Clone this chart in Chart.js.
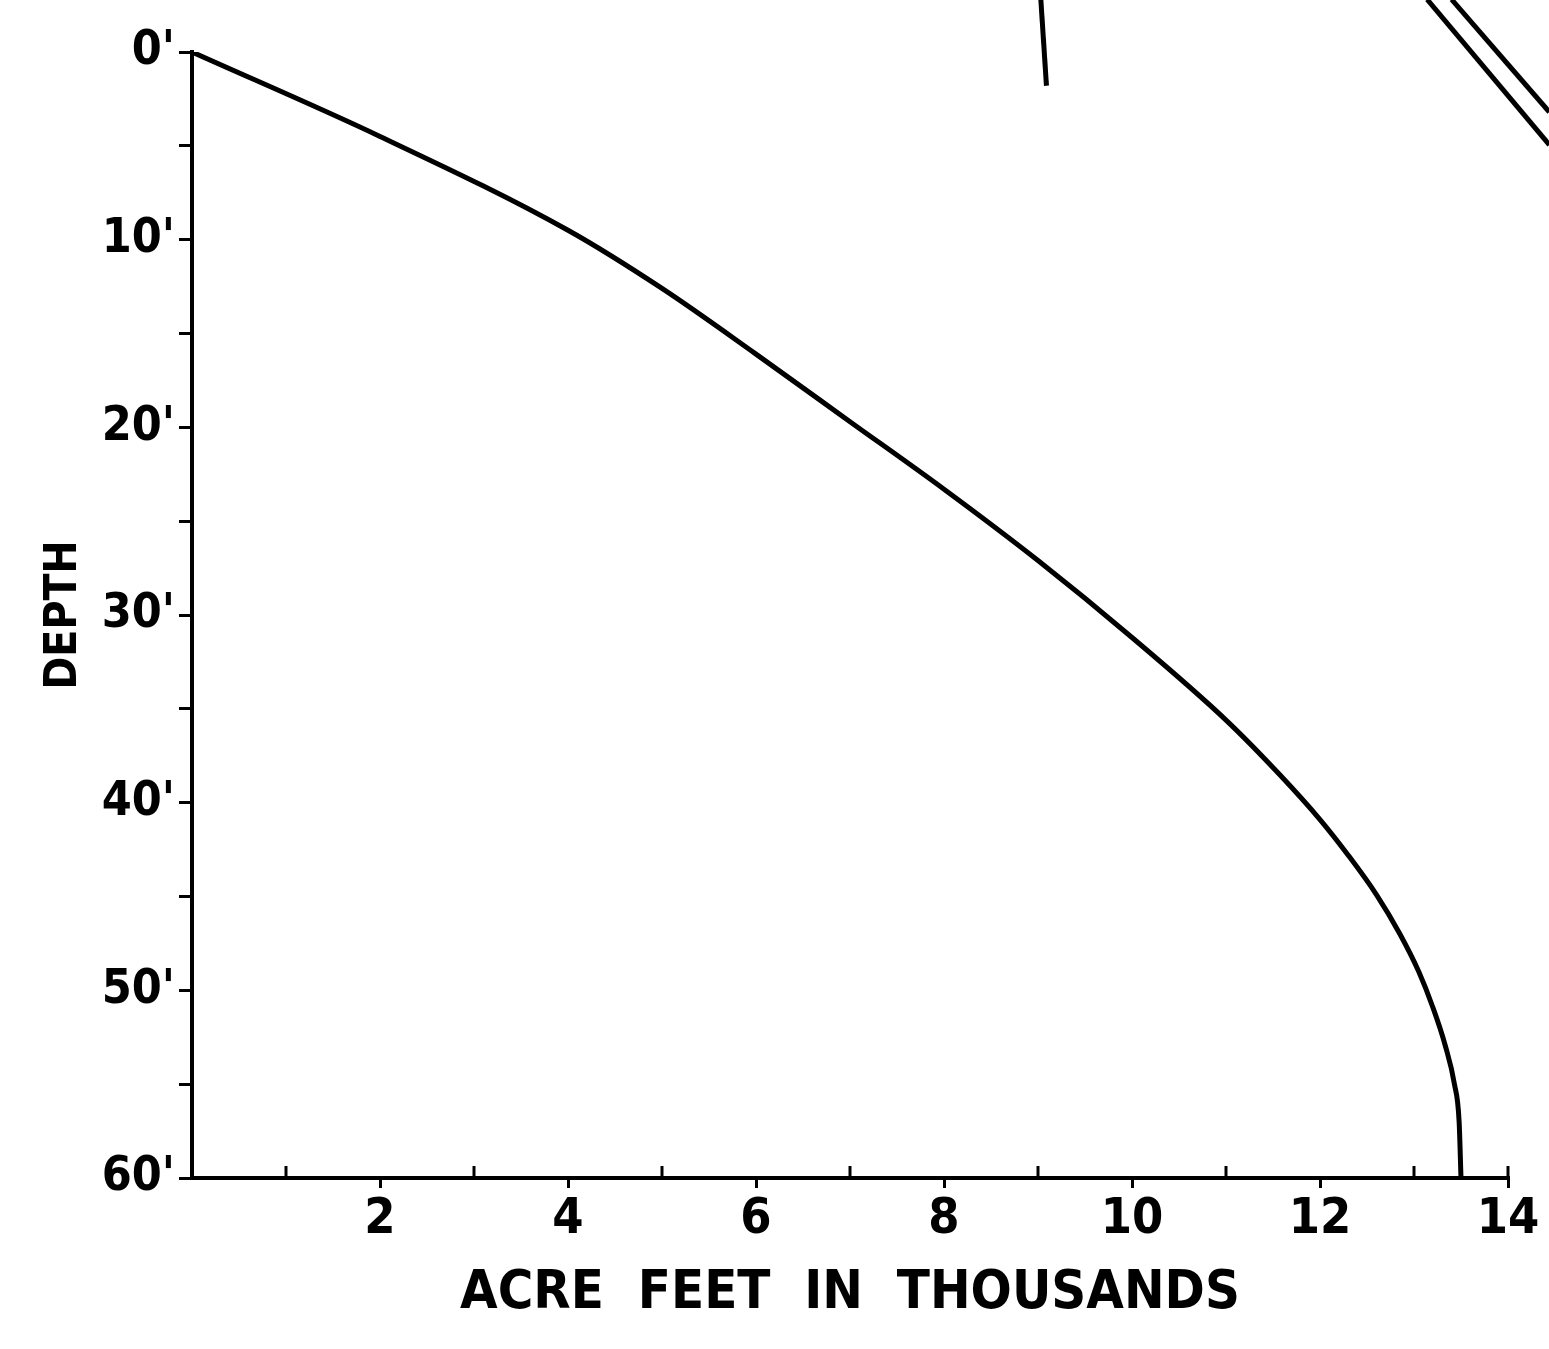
<!DOCTYPE html>
<html>
<head>
<meta charset="utf-8">
<script src="https://cdn.jsdelivr.net/npm/chart.js@4.4.1/dist/chart.umd.min.js"></script>
<style>
  html, body { margin: 0; padding: 0; background: #fff; }
  #wrap { width: 1549px; height: 1349px; }
</style>
</head>
<body>
<div id="wrap"><canvas id="capacityChart" width="1549" height="1349"></canvas></div>
<script>
// Capacity curve: acre feet (thousands) vs depth (feet)
const acreFeet = [0, 2.0, 4.0, 5.0, 6.0, 7.0, 8.0, 9.0, 10.0, 11.0, 11.57, 12.0, 12.3, 12.6, 12.85, 13.05, 13.2, 13.33, 13.43, 13.48, 13.5];
const depthFt  = [0, 4.5, 9.5, 12.6, 16.1, 19.7, 23.3, 27.1, 31.2, 35.6, 38.5, 40.9, 42.8, 44.9, 47.0, 49.0, 50.9, 52.9, 55.0, 57.0, 60];

// stray strokes from the neighbouring figure on the scanned page
const strayVertX = [9.03, 9.09];
const strayVertY = [-2.8, 1.8];
const strayDiagAX = [13.14, 14.44];
const strayDiagAY = [-2.8, 4.95];
const strayDiagBX = [13.40, 14.44];
const strayDiagBY = [-2.8, 3.2];

const xTitle = 'ACRE  FEET  IN  THOUSANDS';
const yTitle = 'DEPTH';

const fontFamily = "'DejaVu Sans Condensed', 'DejaVu Sans', sans-serif";

const toPoints = (xs, ys) => xs.map((x, i) => ({ x: x, y: ys[i] }));

const strayStyle = {
  borderColor: '#000',
  borderWidth: 5,
  pointRadius: 0,
  fill: false,
  clip: false
};

// odd x ticks point up into the plot, as on the original
const upTicks = {
  id: 'upTicks',
  afterDraw(chart) {
    const xs = chart.scales.x;
    const ys = chart.scales.y;
    const ctx = chart.ctx;
    ctx.save();
    ctx.strokeStyle = '#000';
    ctx.lineWidth = 3;
    xs.ticks.forEach(t => {
      if (t.value % 2 === 1 || t.value === 14) {
        const px = xs.getPixelForValue(t.value);
        ctx.beginPath();
        ctx.moveTo(px, ys.bottom);
        ctx.lineTo(px, ys.bottom - 12);
        ctx.stroke();
      }
    });
    ctx.restore();
  }
};

new Chart(document.getElementById('capacityChart'), {
  type: 'line',
  data: {
    datasets: [
      {
        label: 'Capacity',
        data: toPoints(acreFeet, depthFt),
        borderColor: '#000',
        borderWidth: 5,
        pointRadius: 0,
        cubicInterpolationMode: 'monotone',
        fill: false
      },
      { label: 'stray1', data: toPoints(strayVertX, strayVertY), ...strayStyle },
      { label: 'stray2', data: toPoints(strayDiagAX, strayDiagAY), ...strayStyle },
      { label: 'stray3', data: toPoints(strayDiagBX, strayDiagBY), ...strayStyle }
    ]
  },
  options: {
    responsive: false,
    devicePixelRatio: 1,
    animation: false,
    layout: {
      padding: { left: 0, right: 41, top: 52, bottom: 0 }
    },
    plugins: {
      legend: { display: false },
      tooltip: { enabled: false }
    },
    scales: {
      x: {
        type: 'linear',
        min: 0,
        max: 14,
        afterFit: s => { s.height = 171; },
        border: { display: true, color: '#000', width: 4 },
        grid: {
          drawOnChartArea: false,
          drawTicks: true,
          tickLength: 10,
          lineWidth: 3,
          color: c => (c.tick && c.tick.value > 0 && c.tick.value % 2 === 0) ? '#000' : 'rgba(0,0,0,0)'
        },
        ticks: {
          stepSize: 1,
          autoSkip: false,
          maxRotation: 0,
          padding: 2,
          color: '#000',
          font: { family: fontFamily, size: 50, weight: 'bold' },
          callback: v => (v > 0 && v % 2 === 0) ? String(v) : ''
        },
        title: {
          display: true,
          text: xTitle,
          color: '#000',
          font: { family: fontFamily, size: 54, weight: 'bold' },
          padding: { top: 0, bottom: 23 }
        }
      },
      y: {
        type: 'linear',
        reverse: true,
        min: 0,
        max: 60,
        afterFit: s => { s.width = 192; },
        border: { display: true, color: '#000', width: 4 },
        grid: {
          drawOnChartArea: false,
          drawTicks: true,
          tickLength: 13,
          lineWidth: 3,
          color: '#000'
        },
        ticks: {
          stepSize: 5,
          autoSkip: false,
          padding: 4,
          color: '#000',
          font: { family: fontFamily, size: 48, weight: 'bold' },
          callback: v => v % 10 === 0 ? v + "'" : ''
        },
        title: {
          display: true,
          text: yTitle,
          color: '#000',
          font: { family: fontFamily, size: 44, weight: 'bold' },
          padding: { top: 38, bottom: 0 }
        }
      }
    }
  },
  plugins: [upTicks]
});
</script>
</body>
</html>
